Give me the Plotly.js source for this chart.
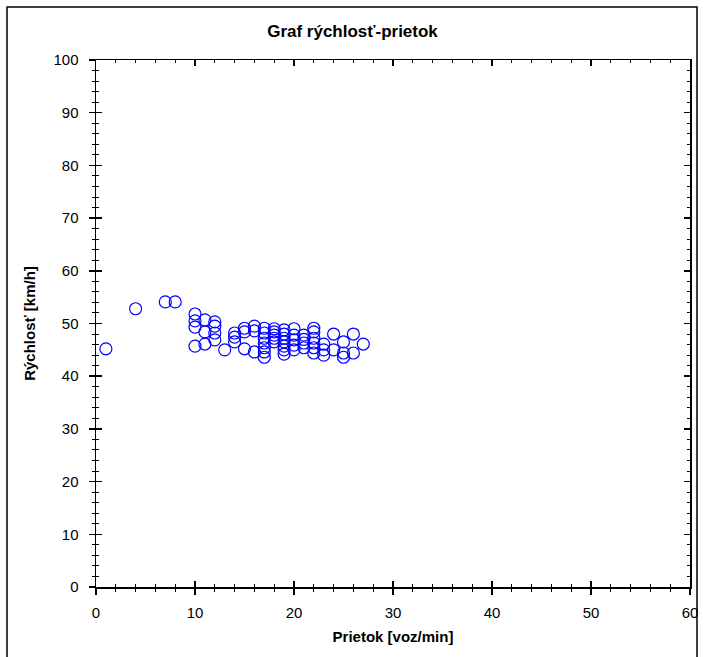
<!DOCTYPE html>
<html>
<head>
<meta charset="utf-8">
<script src="https://cdn.plot.ly/plotly-3.0.1.min.js"></script>
<style>html,body{margin:0;padding:0;background:#fff;}#chart{width:705px;height:657px;}</style>
</head>
<body>
<div id="chart"></div>
<script>
// Flow [veh/min] and speed [km/h] observations
const prietok = [
  1, 4, 7, 8,
  10, 10, 10, 10,
  11, 11, 11,
  12, 12, 12, 12,
  13,
  14, 14, 14,
  15, 15, 15,
  16, 16, 16,
  17, 17, 17, 17, 17, 17, 17,
  18, 18, 18, 18, 18,
  19, 19, 19, 19, 19, 19, 19,
  20, 20, 20, 20, 20,
  21, 21, 21, 21,
  22, 22, 22, 22, 22, 22,
  23, 23, 23,
  24, 24,
  25, 25, 25,
  26, 26,
  27
];
const rychlost = [
  45.2, 52.8, 54.1, 54.1,
  51.8, 50.5, 49.3, 45.7,
  50.7, 48.4, 46.1,
  50.3, 49.5, 48.2, 46.9,
  45.0,
  48.2, 47.4, 46.5,
  49.1, 48.4, 45.2,
  49.5, 48.6, 44.6,
  49.1, 48.2, 47.2, 46.3, 45.4, 44.6, 43.6,
  49.0, 48.4, 47.8, 47.2, 46.5,
  48.8, 48.0, 47.2, 46.5, 45.7, 45.0, 44.2,
  49.0, 47.8, 46.9, 45.9, 45.0,
  47.8, 47.0, 46.3, 45.4,
  49.1, 48.4, 47.2, 46.3, 45.4, 44.4,
  46.1, 45.0, 44.0,
  48.0, 45.0,
  46.5, 44.4, 43.6,
  48.0, 44.4,
  46.1
];
const xTicks = [0, 10, 20, 30, 40, 50, 60];
const yTicks = [0, 10, 20, 30, 40, 50, 60, 70, 80, 90, 100];

const fontFam = "Liberation Sans, Arial, sans-serif";

const traces = [
  {
    x: prietok, y: rychlost, type: 'scatter', mode: 'markers',
    marker: {symbol: 'circle-open', size: 12, color: '#0000ff', line: {width: 1.2, color: '#0000ff'}},
    hoverinfo: 'x+y', showlegend: false
  },
  {x: [], y: [], xaxis: 'x2', yaxis: 'y2', type: 'scatter', mode: 'markers', showlegend: false}
];

const common = {
  showgrid: false, zeroline: false, showline: true, linecolor: '#000', linewidth: 1.5,
  tickcolor: '#000', tickwidth: 1.5, tickfont: {family: fontFam, size: 15, color: '#000'}
};

const layout = {
  width: 705, height: 657,
  margin: {l: 96, r: 15, t: 60, b: 70},
  paper_bgcolor: '#fff', plot_bgcolor: '#fff',
  title: {text: '<b>Graf rýchlosť-prietok</b>', font: {family: fontFam, size: 17, color: '#000'}, x: 0.5, xanchor: 'center', y: 0.952, yanchor: 'middle'},
  xaxis: Object.assign({}, common, {
    range: [0, 60], tickvals: xTicks, ticktext: xTicks.map(String), ticks: 'outside', ticklen: 6,
    minor: {dtick: 2, tick0: 0, ticks: 'outside', ticklen: 3, tickwidth: 1, tickcolor: '#000'},
    ticklabelstandoff: 5,
    mirror: true,
    title: {text: '<b>Prietok [voz/min]</b>', font: {family: fontFam, size: 15, color: '#000'}, standoff: 12}
  }),
  yaxis: Object.assign({}, common, {
    range: [0, 100], tickvals: yTicks, ticktext: yTicks.map(String), ticks: 'outside', ticklen: 6,
    minor: {dtick: 2, tick0: 0, ticks: 'outside', ticklen: 3, tickwidth: 1, tickcolor: '#000'},
    ticklabelstandoff: 7,
    mirror: true,
    title: {text: '<b>Rýchlosť [km/h]</b>', font: {family: fontFam, size: 15, color: '#000'}, standoff: 14}
  }),
  xaxis2: Object.assign({}, common, {
    overlaying: 'x', anchor: 'y2', side: 'bottom', range: [0, 60], tickvals: xTicks,
    ticks: 'inside', ticklen: 6, showticklabels: false, mirror: 'ticks',
    minor: {dtick: 2, tick0: 0, ticks: 'inside', ticklen: 3, tickwidth: 1, tickcolor: '#000'}
  }),
  yaxis2: Object.assign({}, common, {
    overlaying: 'y', anchor: 'x2', side: 'left', range: [0, 100], tickvals: yTicks,
    ticks: 'inside', ticklen: 6, showticklabels: false, mirror: 'ticks',
    minor: {dtick: 2, tick0: 0, ticks: 'inside', ticklen: 3, tickwidth: 1, tickcolor: '#000'}
  }),
  shapes: [
    {type: 'rect', xref: 'paper', yref: 'paper', x0: -0.1498, x1: 1.0118, y0: -0.2, y1: 1.1006,
     line: {color: '#000', width: 1.5}, fillcolor: 'rgba(0,0,0,0)', layer: 'below'}
  ]
};

Plotly.newPlot('chart', traces, layout, {displayModeBar: false, staticPlot: true});
</script>
</body>
</html>
